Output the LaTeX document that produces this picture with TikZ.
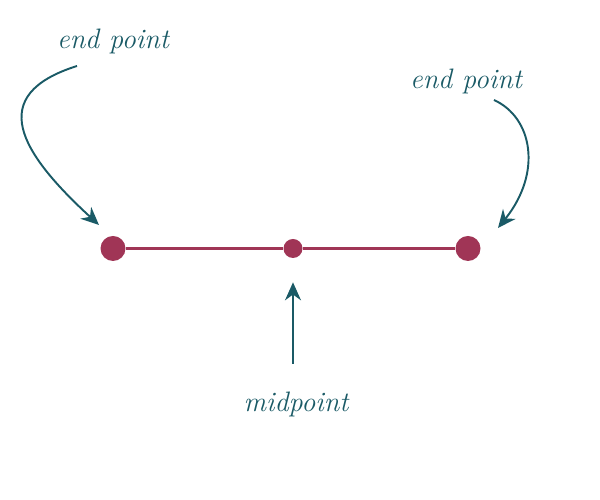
\documentclass[tikz,border=0pt]{standalone}
\usepackage{tikz}
\usetikzlibrary{arrows.meta}
\definecolor{tealink}{HTML}{1A5A66}
\definecolor{berry}{HTML}{A03556}
\tikzstyle{every node}=[inner sep=0pt]
\tikzstyle{enddot}=[circle,fill=berry,minimum size=0.5cm]
\tikzstyle{middot}=[circle,fill=berry,minimum size=0.38cm]
\tikzstyle{note}=[text=tealink,font=\fontsize{16}{19}\selectfont\itshape]
\tikzstyle{pointer}=[draw=tealink,line width=1.1pt,-{Stealth[length=3.6mm,width=3.2mm]}]

\begin{document}
\begin{tikzpicture}
    \useasboundingbox (0,0) rectangle (12,10);
    % segment
    \node [enddot] (A) at (2.26,5.03) {};
    \node [middot] (M) at (5.86,5.03) {};
    \node [enddot] (B) at (9.36,5.03) {};
    \draw [berry,line width=1.7pt] (A) -- (M) -- (B);
    % labels
    \node [note] (endL) at (2.26,9.18) {end point};
    \node [note] (endR) at (9.32,8.38) {end point};
    \node [note] (midL) at (5.92,1.92) {midpoint};
    \coordinate (fromL) at (1.54,8.68);
    \coordinate (tipL) at (1.98,5.5);
    \coordinate (fromR) at (9.88,8.0);
    \coordinate (tipR) at (9.96,5.44);
    % arrows
    \draw [pointer] (fromL) .. controls (-0.3,8.1) and (0.4,6.95) .. (tipL);
    \draw [pointer] (fromR) .. controls (10.65,7.65) and (10.85,6.55) .. (tipR);
    \draw [pointer,shorten <=0.55cm,shorten >=0.48cm] (M |- midL.north) -- (M);
\end{tikzpicture}
\end{document}
